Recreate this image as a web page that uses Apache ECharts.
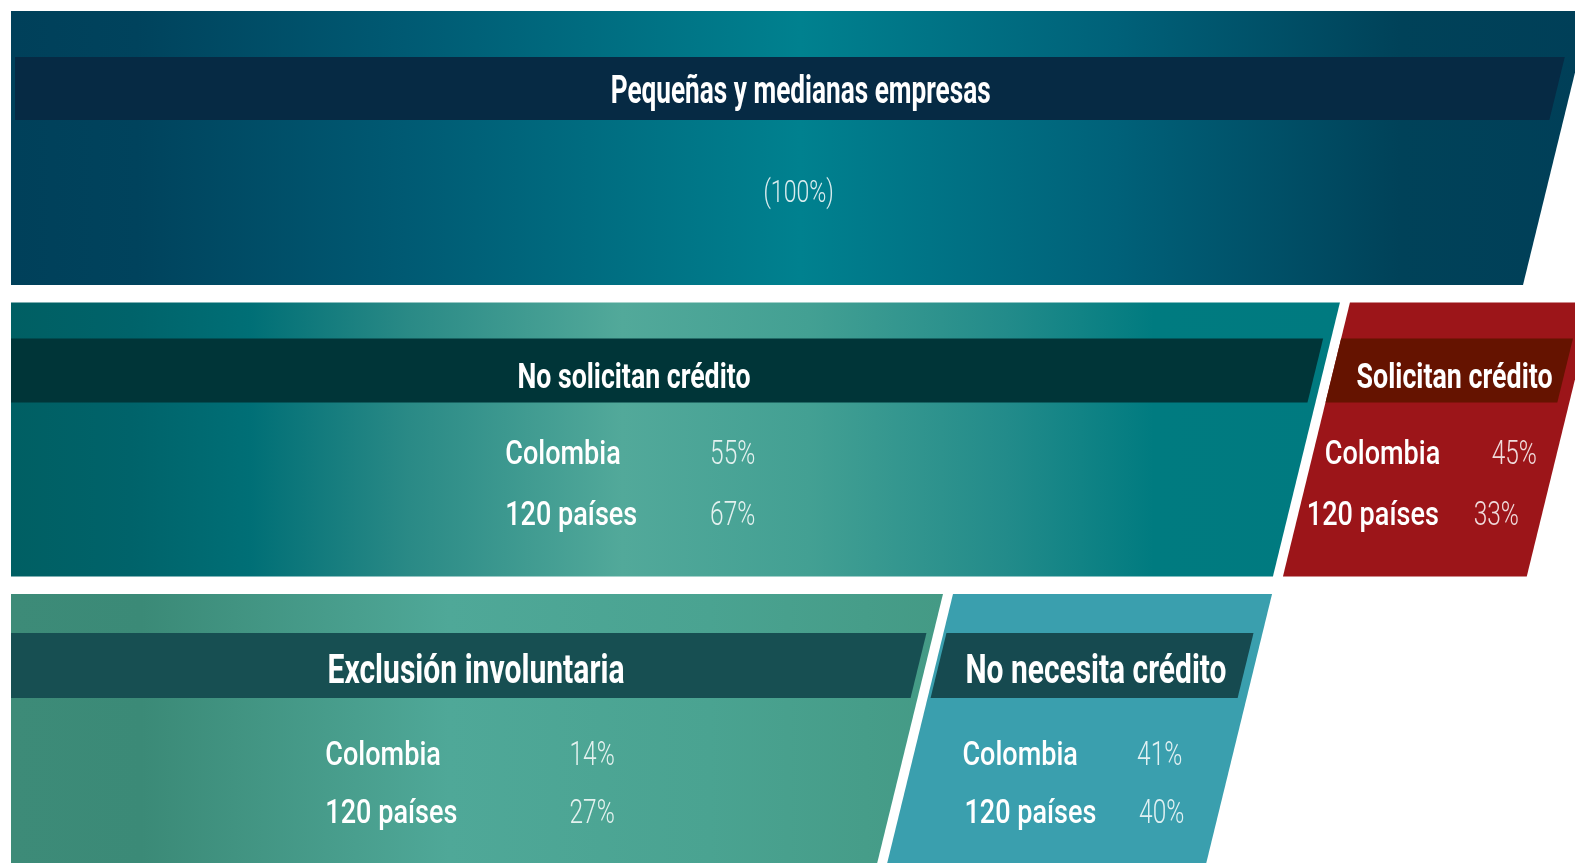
<!DOCTYPE html>
<html>
<head>
<meta charset="utf-8">
<title>Pymes y crédito</title>
<script src="https://cdn.jsdelivr.net/npm/echarts@6/dist/echarts.min.js"></script>
<style>
html,body{margin:0;padding:0;background:#fff;}
#chart{width:1575px;height:863px;}
</style>
</head>
<body>
<div id="chart"></div>
<script>
// filas del embudo (eje y, categorias)
var filas = ['Total', 'Solicitud', 'Motivo'];
// bloques y sus valores
var bloques = ['Pequeñas y medianas empresas', 'No solicitan crédito', 'Solicitan crédito', 'Exclusión involuntaria', 'No necesita crédito'];
var filaBloque = [0, 1, 1, 2, 2];
var etiquetas = ['Colombia', '120 países'];
var colombia = [100, 55, 45, 14, 41];
var paises = [100, 67, 33, 27, 40];

// geometria de cada bloque en unidades del eje x (0-100)
var inicio = [0, 0, 85.61, 0, 60.23];
var fin = [100.96, 84.97, 101.2, 59.59, 80.63];
var tituloX = [50.49, 39.83, 92.3, 29.73, 69.37];
var etiquetaX = [0, 31.6, 84.0, 20.1, 60.83];
var pctX = [50.36, 44.7, 94.67, 35.71, 72.0];
var corrimiento = [0, 0, -18, 0, 2];//desplazamiento de la 2a linea (px)

// banda oscura del titulo (px desde el borde superior del bloque)
var bandaTop = [46, 36, 36, 39, 39];
var bandaAlto = [63, 64, 64, 65, 65];
var bandaIzq = [4, 0, 0, 0, 3];
var bandaDer = [14, 8, 12, 7, 9];
var bandaColor = ['#062a44', '#003538', '#651300', '#174f52', '#164a50'];

// textos (px desde el borde superior del bloque)
var tituloDy = [78, 72.5, 72.5, 75, 75];
var linea1Dy = [179, 150, 150, 159.5, 159.5];
var linea2Dy = [0, 211, 211, 217, 217];
var tituloSize = [38, 35, 35, 40, 40];
var tituloAncho = [380, 233, 196, 297, 261];

var rellenos = [
	new echarts.graphic.LinearGradient(0, 0, 1, 0, [
		{offset: 0, color: '#00405a'}, {offset: 0.08, color: '#00435d'},
		{offset: 0.25, color: '#005a73'}, {offset: 0.5, color: '#00818f'},
		{offset: 0.7, color: '#006179'}, {offset: 0.88, color: '#004259'},
		{offset: 1, color: '#003f58'}]),
	new echarts.graphic.LinearGradient(0, 0, 1, 0, [
		{offset: 0, color: '#005f63'}, {offset: 0.09, color: '#00636a'},
		{offset: 0.18, color: '#006f76'}, {offset: 0.3, color: '#2a8a86'},
		{offset: 0.46, color: '#52a99a'}, {offset: 0.6, color: '#43a093'},
		{offset: 0.75, color: '#228b8a'}, {offset: 0.86, color: '#007b80'},
		{offset: 1, color: '#007a80'}]),
	'#9c1519',
	new echarts.graphic.LinearGradient(0, 0, 1, 0, [
		{offset: 0, color: '#3d8b78'}, {offset: 0.14, color: '#3b8a77'},
		{offset: 0.47, color: '#4fa898'}, {offset: 0.75, color: '#4aa391'},
		{offset: 1, color: '#449a85'}]),
	'#3a9fae'
];

var PENDIENTE = 67 / 274;//inclinacion de los bordes
var FUENTE = 'Roboto';

// escala horizontal para imitar la fuente condensada
var lienzo = document.createElement('canvas').getContext('2d');
function escala(texto, font, ancho){
	lienzo.font = font;
	return ancho / lienzo.measureText(texto).width;
}
var escTitulo = bloques.map(function(t, i){
	return escala(t, 'bold ' + tituloSize[i] + 'px ' + FUENTE, tituloAncho[i]);
});
var escEtiqueta = escala('Colombia', '500 33px ' + FUENTE, 115.5);
var escPct = escala('55%', '300 33px ' + FUENTE, 45.2);
var escParen = escala('(100%)', '300 32px ' + FUENTE, 70.3);

function texto(x, y, t, size, weight, esc, color, align){
	return {
		type: 'text', x: x, y: y + size * 0.11, scaleX: esc, z2: 10,
		style: {
			text: t, fill: color, fontFamily: FUENTE, fontSize: size, fontWeight: weight,
			align: align, verticalAlign: 'middle'
		}
	};
}

function renderItem(params, api){
	var i = api.value(0);
	var c = api.coord([inicio[i], filaBloque[i]]);
	var h = api.size([0, 1])[1] * 0.94;
	var top = c[1] - h / 2;
	var x0 = c[0];
	var x1 = api.coord([fin[i], filaBloque[i]])[0];
	var inclinado = inicio[i] > 0;
	var izq = function(y){ return inclinado ? x0 - (y - top) * PENDIENTE : x0; };
	var der = function(y){ return x1 - (y - top) * PENDIENTE; };
	var hijos = [];
	// bloque
	hijos.push({
		type: 'polygon',
		shape: {points: [[izq(top), top], [der(top), top], [der(top + h), top + h], [izq(top + h), top + h]]},
		style: {fill: rellenos[i]}
	});
	// banda del titulo
	var b0 = top + bandaTop[i], b1 = b0 + bandaAlto[i];
	hijos.push({
		type: 'polygon',
		shape: {points: [[izq(b0) + bandaIzq[i], b0], [der(b0) - bandaDer[i], b0], [der(b1) - bandaDer[i], b1], [izq(b1) + bandaIzq[i], b1]]},
		style: {fill: bandaColor[i]}
	});
	hijos.push(texto(api.coord([tituloX[i], 0])[0], top + tituloDy[i], bloques[i], tituloSize[i], 'bold', escTitulo[i], '#ffffff', 'center'));
	if(i === 0){
		hijos.push(texto(api.coord([pctX[i], 0])[0], top + linea1Dy[i], '(' + colombia[i] + '%)', 32, 300, escParen, 'rgba(255,255,255,0.85)', 'center'));
	}else{
		var ex = api.coord([etiquetaX[i], 0])[0];
		var px = api.coord([pctX[i], 0])[0];
		var valores = [colombia[i], paises[i]];
		var dys = [linea1Dy[i], linea2Dy[i]];
		for(var k = 0; k < 2; k++){
			var dx = corrimiento[i] * k;
			hijos.push(texto(ex + dx, top + dys[k], etiquetas[k], 33, 500, escEtiqueta, '#ffffff', 'left'));
			hijos.push(texto(px + dx, top + dys[k], valores[k] + '%', 33, 300, escPct, 'rgba(255,255,255,0.85)', 'left'));
		}
	}
	return {type: 'group', children: hijos};
}

var myChart = echarts.init(document.getElementById('chart'));
var option = {
	animation: false,
	grid: {left: 11, right: 0, top: 148, bottom: 132},
	xAxis: {type: 'value', min: 0, max: 100, show: false},
	yAxis: {type: 'category', data: filas, inverse: true, boundaryGap: false, show: false},
	series: [{
		type: 'custom',
		clip: false,
		renderItem: renderItem,
		encode: {x: 1, y: 2},
		data: bloques.map(function(b, i){ return [i, inicio[i], filaBloque[i]]; })
	}]
};
myChart.setOption(option);
</script>
</body>
</html>
